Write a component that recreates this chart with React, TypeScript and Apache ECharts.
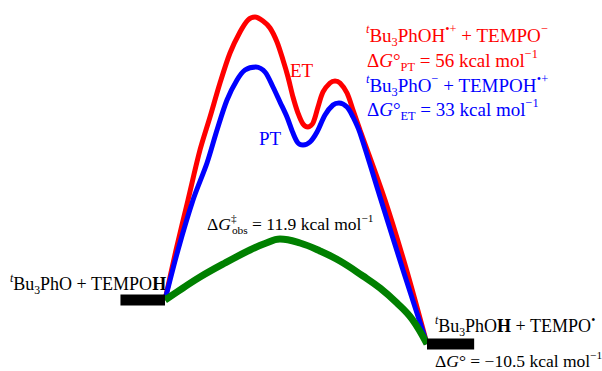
import React, { useEffect, useRef } from "react";
import * as echarts from "echarts";

// Energy levels (kcal/mol, schematic) and their horizontal spans on the reaction coordinate
const levelEnergies = [0, -10.5];
const levelSpans = [
  [-17, 0],
  [100, 118],
];

// ET pathway (red) - [reaction coordinate, energy]
const etCurve: [number, number][] = [
  [0, 0], [4.2, 11.9], [8.78, 23.87], [13.36, 35.8], [17.18, 43.67], [20.99, 51.78],
  [24.81, 58.94], [28.63, 63.95], [31.68, 66.82], [34.35, 67.53], [37.4, 66.58],
  [40.08, 64.91], [42.75, 61.57], [45.04, 57.27], [46.95, 53.22], [48.85, 48.44],
  [50.76, 44.62], [52.67, 42.0], [54.58, 41.28], [56.49, 42.24], [58.4, 46.06],
  [60.31, 49.64], [62.98, 51.78], [64.89, 52.26], [66.79, 51.78], [69.47, 49.4],
  [71.76, 45.34], [74.43, 40.57], [83.97, 23.86], [91.98, 7.64], [100, -10.5],
];
// PT pathway (blue)
const ptCurve: [number, number][] = [
  [0, 0], [4.96, 11.93], [10.69, 23.86], [16.03, 32.69], [19.85, 40.57], [23.66, 47.73],
  [27.48, 52.5], [30.53, 54.89], [34.73, 55.6], [38.17, 54.41], [41.22, 50.83],
  [43.89, 47.25], [46.56, 43.67], [48.85, 39.85], [50.76, 37.47], [52.67, 36.99],
  [55.34, 37.7], [58.02, 40.09], [61.07, 44.15], [64.12, 46.53], [66.41, 47.01],
  [69.47, 46.06], [71.76, 43.67], [74.43, 39.85], [82.44, 23.86], [90.84, 7.16],
  [100, -10.5],
];
// Observed concerted pathway (green)
const obsCurve: [number, number][] = [
  [0, 0], [6.87, 2.86], [13.36, 5.49], [22.9, 8.83], [32.44, 11.93], [38.17, 13.48],
  [43.89, 14.56], [51.53, 13.6], [59.16, 11.69], [66.79, 9.31], [75.57, 5.73],
  [82.06, 2.86], [88.55, -0.72], [94.27, -4.53], [100, -10.5],
];

// Labels
const reactantLabel = "{isup|t}{n|Bu}{sub|3}{n|PhO + TEMPO}{b|H}";
const barrierLabel = "{n|Δ}{i|G}{dd|‡}{sub|obs}{n| = 11.9 kcal mol}{sup|−1}";
const productLabel = "{isup|t}{n|Bu}{sub|3}{n|PhO}{b|H}{n| + TEMPO}{sup|•}";
const productDG = "{n|Δ}{i|G}{n|° = −10.5 kcal mol}{sup|−1}";
const ptProducts = "{isup|t}{n|Bu}{sub|3}{n|PhOH}{sup|•+}{n| + TEMPO}{sup|−}";
const ptDG = "{n|Δ}{i|G}{n|°}{sub|PT}{n| = 56 kcal mol}{sup|−1}";
const etProducts = "{isup|t}{n|Bu}{sub|3}{n|PhO}{sup|−}{n| + TEMPOH}{sup|•+}";
const etDG = "{n|Δ}{i|G}{n|°}{sub|ET}{n| = 33 kcal mol}{sup|−1}";

const FONT = "'Liberation Serif', 'Times New Roman', Times, serif";

// Layout: pixel mapping of the (hidden) axes over the full canvas
const W = 602;
const H = 371;
const X0PX = 165; // reaction coordinate 0
const XPX_PER_UNIT = 2.62;
const Y0PX = 300; // energy 0
const YPX_PER_UNIT = 44 / 10.5;

function richFor(S: number, color: string) {
  const L = Math.round(S * 1.33);
  const baseline = L / 2 + 0.3375 * S;
  const s = 0.65 * S;
  const subLs = 2 * (L - (baseline + 0.22 * S - 0.3375 * s));
  const supLs = 2 * (baseline - 0.38 * S - 0.3375 * s);
  const base = { fontFamily: FONT, fontSize: S, lineHeight: L, fill: color };
  return {
    n: { ...base },
    b: { ...base, fontWeight: "bold" },
    i: { ...base, fontStyle: "italic" },
    sub: { fontFamily: FONT, fontSize: s, lineHeight: subLs, verticalAlign: "bottom", fill: color },
    sup: { fontFamily: FONT, fontSize: s, lineHeight: supLs, verticalAlign: "top", fill: color },
    isup: { fontFamily: FONT, fontSize: s, lineHeight: supLs, verticalAlign: "top", fontStyle: "italic", fill: color },
    dd: { fontFamily: FONT, fontSize: s, lineHeight: supLs, verticalAlign: "top", fill: color, width: 1 },
  };
}

function label(text: string, x: number, y: number, S: number, color: string) {
  return {
    type: "text",
    x,
    y,
    silent: true,
    style: {
      text,
      rich: richFor(S, color),
      align: "left",
      verticalAlign: "top",
      fill: color,
      fontFamily: FONT,
      fontSize: S,
    },
  };
}

function plain(text: string, x: number, y: number, S: number, color: string) {
  return {
    type: "text",
    x,
    y,
    silent: true,
    style: { text, fill: color, fontFamily: FONT, fontSize: S, align: "left", verticalAlign: "middle" },
  };
}

export default function App() {
  const ref = useRef<HTMLDivElement>(null);
  useEffect(() => {
    if (!ref.current) return;
    const chart = echarts.init(ref.current, null, { renderer: "svg" });
    const curve = (name: string, data: [number, number][], color: string, width: number, smooth: number) => ({
      type: "line",
      name,
      data,
      smooth,
      symbol: "none",
      clip: false,
      silent: true,
      lineStyle: { color, width },
    });
    const levelSeries = levelEnergies.map((e, i) => ({
      type: "line",
      data: [
        [levelSpans[i][0], e],
        [levelSpans[i][1], e],
      ],
      symbol: "none",
      clip: false,
      silent: true,
      lineStyle: { color: "#000", width: 11, cap: "butt" },
      z: 5,
    }));
    chart.setOption({
      animation: false,
      backgroundColor: "#fff",
      grid: { left: 0, right: 0, top: 0, bottom: 0 },
      xAxis: {
        type: "value",
        min: -X0PX / XPX_PER_UNIT,
        max: (W - X0PX) / XPX_PER_UNIT,
        show: false,
      },
      yAxis: {
        type: "value",
        min: -(H - Y0PX) / YPX_PER_UNIT,
        max: Y0PX / YPX_PER_UNIT,
        show: false,
      },
      series: [
        curve("ET", etCurve, "#ff0000", 5, 0.3),
        curve("PT", ptCurve, "#0000ff", 5, 0.3),
        curve("obs", obsCurve, "#008000", 7, 0.4),
        ...levelSeries,
      ],
      graphic: [
        label(reactantLabel, 10, 272, 18, "#000"),
        label(barrierLabel, 207, 212, 17.5, "#000"),
        label(productLabel, 435, 314, 18, "#000"),
        label(productDG, 435, 349, 17.5, "#000"),
        label(ptProducts, 366, 23, 19, "#ff0000"),
        label(ptDG, 367, 48, 19, "#ff0000"),
        label(etProducts, 366, 73, 19, "#0000ff"),
        label(etDG, 367, 97, 19, "#0000ff"),
        plain("ET", 290, 70.5, 19, "#ff0000"),
        plain("PT", 259, 138.5, 19, "#0000ff"),
      ],
    });
    return () => chart.dispose();
  }, []);
  return (
    <div
      ref={ref}
      style={{ position: "absolute", left: 0, top: 0, width: W, height: H }}
    />
  );
}
